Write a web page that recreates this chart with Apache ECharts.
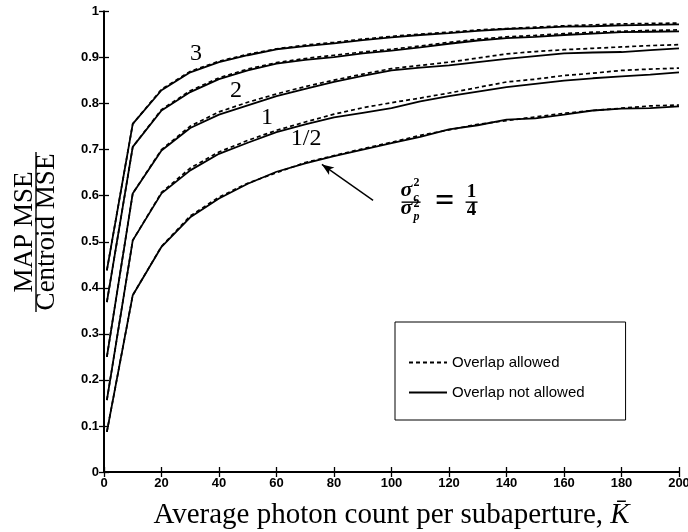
<!DOCTYPE html>
<html><head><meta charset="utf-8">
<script src="https://cdn.jsdelivr.net/npm/echarts@6/dist/echarts.min.js"></script>
<style>html,body{margin:0;padding:0;background:#fff}#c{width:688px;height:532px}</style>
</head><body><div id="c"></div>
<script>
// Average photon count per subaperture (x values)
const K = [1,10,20,30,40,50,60,70,80,90,100,110,120,130,140,150,160,170,180,190,200];
const xTicks = [0,20,40,60,80,100,120,140,160,180,200];
const yTicks = [0,0.1,0.2,0.3,0.4,0.5,0.6,0.7,0.8,0.9,1];
const curveLabels = ['3','2','1','1/2'];
const legendNames = ['Overlap allowed','Overlap not allowed'];

// sigma_c^2 / sigma_p^2 = 3
const ratio3Solid  = [0.438,0.756,0.829,0.868,0.890,0.905,0.918,0.925,0.931,0.938,0.944,0.949,0.953,0.958,0.962,0.964,0.967,0.968,0.970,0.971,0.972];
const ratio3Dashed = [0.438,0.756,0.831,0.870,0.892,0.907,0.919,0.927,0.933,0.940,0.946,0.951,0.955,0.960,0.963,0.966,0.969,0.971,0.973,0.974,0.975];
// = 2
const ratio2Solid  = [0.369,0.706,0.785,0.825,0.853,0.872,0.887,0.895,0.901,0.909,0.915,0.922,0.930,0.937,0.942,0.945,0.949,0.952,0.955,0.956,0.957];
const ratio2Dashed = [0.369,0.706,0.787,0.828,0.856,0.875,0.889,0.898,0.905,0.912,0.918,0.925,0.933,0.940,0.945,0.948,0.952,0.955,0.957,0.959,0.960];
// = 1
const ratio1Solid  = [0.250,0.605,0.698,0.747,0.776,0.796,0.816,0.832,0.847,0.860,0.872,0.878,0.883,0.890,0.897,0.903,0.909,0.911,0.912,0.916,0.920];
const ratio1Dashed = [0.250,0.605,0.700,0.751,0.782,0.803,0.821,0.837,0.851,0.864,0.876,0.883,0.890,0.899,0.908,0.913,0.917,0.920,0.923,0.926,0.928];
// = 1/2
const ratioHalfSolid  = [0.156,0.503,0.605,0.655,0.691,0.715,0.738,0.755,0.770,0.780,0.790,0.805,0.816,0.826,0.836,0.843,0.850,0.855,0.859,0.863,0.868];
const ratioHalfDashed = [0.156,0.503,0.607,0.660,0.695,0.720,0.742,0.760,0.777,0.791,0.802,0.812,0.823,0.835,0.847,0.853,0.861,0.866,0.872,0.875,0.877];
// = 1/4
const ratioQuarterSolid  = [0.087,0.384,0.489,0.553,0.594,0.626,0.652,0.670,0.686,0.700,0.714,0.728,0.744,0.753,0.765,0.768,0.776,0.785,0.789,0.790,0.794];
const ratioQuarterDashed = [0.087,0.384,0.490,0.556,0.597,0.627,0.650,0.672,0.687,0.702,0.716,0.731,0.743,0.755,0.763,0.771,0.779,0.785,0.790,0.795,0.797];

const curves = [
  [ratio3Solid, ratio3Dashed],
  [ratio2Solid, ratio2Dashed],
  [ratio1Solid, ratio1Dashed],
  [ratioHalfSolid, ratioHalfDashed],
  [ratioQuarterSolid, ratioQuarterDashed]
];

const pair = arr => K.map((k, i) => [k, arr[i]]);
const series = [];
curves.forEach(([solid, dashed]) => {
  series.push({type:'line', name:legendNames[0], data:pair(dashed), symbol:'none', silent:true, color:'#000',
    itemStyle:{color:'#000'}, lineStyle:{color:'#000', width:1.7, type:[4,3]}, z:2});
  series.push({type:'line', name:legendNames[1], data:pair(solid), symbol:'none', silent:true, color:'#000',
    itemStyle:{color:'#000'}, lineStyle:{color:'#000', width:1.8, type:'solid'}, z:3});
});
// arrow pointing at the 1/4 curve
series[series.length-1].markLine = {
  silent:true, animation:false, symbol:['none','arrow'], symbolSize:[7,12],
  lineStyle:{color:'#000', width:1.4, type:'solid'}, label:{show:false},
  data:[[{coord:[93.6,0.590]},{coord:[75.8,0.668]}]]
};

const tickFont = {fontFamily:'Liberation Sans', fontWeight:'bold', fontSize:13, color:'#000'};
const axisLineStyle = {show:true, lineStyle:{color:'#000', width:2}};
const tickStyle = {show:true, inside:true, length:5, lineStyle:{color:'#000', width:1.3}};

const chart = echarts.init(document.getElementById('c'));
chart.setOption({
  animation:false,
  backgroundColor:'#fff',
  grid:{left:104, right:9, top:11.5, bottom:60, containLabel:false, outerBoundsMode:'none'},
  legend:{
    data:legendNames, orient:'vertical', left:395, top:322,
    padding:[33,41,20,13], itemGap:15, itemWidth:38, itemHeight:14, itemTextGap:15,
    borderColor:'#000', borderWidth:1, selectedMode:false,
    itemStyle:{opacity:0},
    textStyle:{fontFamily:'Liberation Sans', fontSize:15, color:'#000'}
  },
  xAxis:[
    {type:'value', min:xTicks[0], max:xTicks[xTicks.length-1], interval:xTicks[1]-xTicks[0],
     axisLine:axisLineStyle, axisTick:tickStyle, splitLine:{show:false},
     axisLabel:Object.assign({margin:5}, tickFont),
     name:'{n|Average photon count per subaperture, }{k|K̄}', nameLocation:'middle', nameGap:29,
     nameTextStyle:{rich:{
       n:{fontFamily:'Liberation Serif', fontSize:29, color:'#000'},
       k:{fontFamily:'Liberation Serif', fontStyle:'italic', fontSize:29, color:'#000'}
     }}},
    {type:'value', position:'top', min:xTicks[0], max:xTicks[xTicks.length-1], interval:xTicks[1]-xTicks[0],
     axisLine:axisLineStyle, axisTick:tickStyle, splitLine:{show:false}, axisLabel:{show:false}}
  ],
  yAxis:[
    {type:'value', min:yTicks[0], max:yTicks[yTicks.length-1], interval:yTicks[1]-yTicks[0],
     axisLine:axisLineStyle, axisTick:tickStyle, splitLine:{show:false},
     axisLabel:Object.assign({margin:5}, tickFont)},
    {type:'value', position:'right', min:yTicks[0], max:yTicks[yTicks.length-1], interval:yTicks[1]-yTicks[0],
     axisLine:axisLineStyle, axisTick:tickStyle, splitLine:{show:false}, axisLabel:{show:false}}
  ],
  series:series
});

// annotations positioned in data coordinates
const px = (k, v) => chart.convertToPixel({xAxisIndex:0, yAxisIndex:0}, [k, v]);
const serif = 'Liberation Serif';
const labelAnchors = [[32,0.909],[45.9,0.829],[56.7,0.770],[70.3,0.7245]];
const elements = [];
curveLabels.forEach((t, i) => {
  const p = px(labelAnchors[i][0], labelAnchors[i][1]);
  elements.push({type:'text', x:p[0], y:p[1], silent:true,
    style:{text:t, fontFamily:serif, fontSize:24, fill:'#000', align:'center', verticalAlign:'middle'}});
});
const a = px(103.5, 0.586);
const ax = a[0], ay = a[1];
const t = (x, y, text, size, italic, align, va) => ({type:'text', x:x, y:y, silent:true,
  style:{text:text, fontFamily:serif, fontSize:size, fontStyle:italic?'italic':'normal', fontWeight:'bold',
         fill:'#000', align:align||'left', verticalAlign:va||'bottom'}});
elements.push(
  t(ax-1, ay-1, 'σ', 22, true),
  t(ax+12, ay-13, '2', 12, false),
  t(ax+12, ay+2, 'c', 12, true),
  {type:'line', silent:true, shape:{x1:ax, y1:ay, x2:ax+19, y2:ay}, style:{stroke:'#000', lineWidth:1.4}},
  t(ax-1, ay+17, 'σ', 22, true),
  t(ax+12, ay+8, '2', 12, false),
  t(ax+12, ay+21, 'p', 12, true),
  t(ax+43, ay, '=', 34, false, 'center', 'middle'),
  t(ax+70, ay-1, '1', 19, false, 'center'),
  {type:'line', silent:true, shape:{x1:ax+64, y1:ay, x2:ax+76, y2:ay}, style:{stroke:'#000', lineWidth:1.4}},
  t(ax+70, ay+17, '4', 19, false, 'center')
);
// y axis title as a fraction
elements.push({type:'group', x:36, y:232, rotation:Math.PI/2, silent:true, children:[
  {type:'text', x:0, y:-11, style:{text:'MAP MSE', fontFamily:serif, fontSize:27, fill:'#000', align:'center', verticalAlign:'middle'}},
  {type:'line', shape:{x1:-80, y1:0, x2:80, y2:0}, style:{stroke:'#000', lineWidth:1.4}},
  {type:'text', x:0, y:11, style:{text:'Centroid MSE', fontFamily:serif, fontSize:27, fill:'#000', align:'center', verticalAlign:'middle'}}
]});
chart.setOption({graphic:{elements:elements}});
</script>
</body></html>
